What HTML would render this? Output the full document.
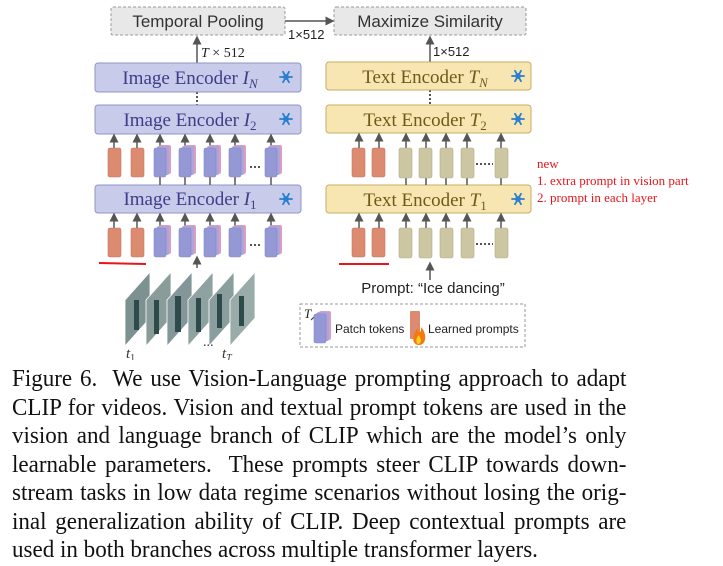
<!DOCTYPE html>
<html><head><meta charset="utf-8"><style>
body{margin:0;background:#fff;width:723px;height:566px;overflow:hidden;position:relative}
svg{position:absolute;left:0;top:0}
.cap{position:absolute;left:12px;top:365px;width:640px;transform:scaleX(0.96);transform-origin:0 0;font-family:"Liberation Serif",serif;font-size:24px;color:#111}
.cap div{height:28.5px;line-height:28.5px;text-align:justify;text-align-last:justify;white-space:nowrap;overflow:visible}
.red{position:absolute;left:537px;font-family:"Liberation Serif",serif;font-size:13px;color:#e8151b;white-space:nowrap}
</style></head><body>
<svg width="723" height="360" viewBox="0 0 723 360" font-family="Liberation Serif, serif">
<defs>
<marker id="ah" markerWidth="6" markerHeight="6" refX="3" refY="3" orient="auto"><path d="M0,0 L6,3 L0,6 z" fill="#555"/></marker>
<g id="bt"><rect x="5" y="-3" width="12" height="29" rx="2" fill="#d7a0c0"/><rect x="3" y="-2" width="12" height="29" rx="2" fill="#b0a3dc"/><rect x="0" y="0" width="12" height="29" rx="2" fill="#9499d6" stroke="#8287c4" stroke-width="0.6"/></g>
<g id="ot"><rect x="0" y="0" width="13" height="29" rx="2" fill="#dc8a70" stroke="#c07660" stroke-width="0.6"/></g>
<g id="wt"><rect x="0" y="0" width="13" height="30" rx="2" fill="#cdc6a3" stroke="#b3ab88" stroke-width="0.6"/></g>
<g id="sf" stroke="#2a7fd0" stroke-width="1.8" stroke-linecap="round"><line x1="-6" y1="0" x2="6" y2="0"/><line x1="-3" y1="-5.2" x2="3" y2="5.2"/><line x1="3" y1="-5.2" x2="-3" y2="5.2"/><circle r="2" fill="#2a7fd0"/></g>
</defs>
<rect x="111" y="7" width="174" height="28" rx="2" fill="#e8e8e8" stroke="#999" stroke-dasharray="3,2"/>
<text x="198" y="27" font-size="17" text-anchor="middle" fill="#333" font-family="Liberation Sans, sans-serif">Temporal Pooling</text>
<rect x="334" y="7" width="192" height="28" rx="2" fill="#e8e8e8" stroke="#999" stroke-dasharray="3,2"/>
<text x="430" y="27" font-size="17" text-anchor="middle" fill="#333" font-family="Liberation Sans, sans-serif">Maximize Similarity</text>
<line x1="285" y1="21" x2="330" y2="21" stroke="#555" stroke-width="1.5" marker-end="url(#ah)"/>
<text x="288" y="39" font-size="13" fill="#222" font-family="Liberation Sans, sans-serif">1×512</text>
<line x1="197" y1="63" x2="197" y2="40" stroke="#555" stroke-width="1.5" marker-end="url(#ah)"/>
<text x="201" y="57" font-size="14" fill="#222"><tspan font-style="italic">T</tspan> × 512</text>
<line x1="430" y1="62" x2="430" y2="40" stroke="#555" stroke-width="1.5" marker-end="url(#ah)"/>
<text x="433" y="56" font-size="13" fill="#222" font-family="Liberation Sans, sans-serif">1×512</text>
<line x1="197" y1="92" x2="197" y2="105" stroke="#555" stroke-width="2" stroke-dasharray="2,2"/>
<line x1="430" y1="90" x2="430" y2="105" stroke="#555" stroke-width="2" stroke-dasharray="2,2"/>
<g fill="#c9cbea" stroke="#9094c8" stroke-width="1">
<rect x="95" y="63" width="206" height="29" rx="3"/><rect x="95" y="105" width="206" height="29" rx="3"/><rect x="95" y="185" width="206" height="28" rx="3"/></g>
<g font-size="19" fill="#3d3d88" text-anchor="middle">
<text x="190" y="84">Image Encoder <tspan font-style="italic">I</tspan><tspan font-style="italic" font-size="13" dy="4">N</tspan></text>
<text x="190" y="126">Image Encoder <tspan font-style="italic">I</tspan><tspan font-size="13" dy="4">2</tspan></text>
<text x="190" y="205">Image Encoder <tspan font-style="italic">I</tspan><tspan font-size="13" dy="4">1</tspan></text></g>
<use href="#sf" x="286" y="77"/><use href="#sf" x="286" y="119"/><use href="#sf" x="286" y="199"/>
<g fill="#f7e6b2" stroke="#c8ad62" stroke-width="1">
<rect x="326" y="62" width="205" height="28" rx="3"/><rect x="326" y="105" width="205" height="28" rx="3"/><rect x="326" y="185" width="205" height="28" rx="3"/></g>
<g font-size="19" fill="#6e5a18" text-anchor="middle">
<text x="425" y="83">Text Encoder <tspan font-style="italic">T</tspan><tspan font-style="italic" font-size="13" dy="4">N</tspan></text>
<text x="425" y="126">Text Encoder <tspan font-style="italic">T</tspan><tspan font-size="13" dy="4">2</tspan></text>
<text x="425" y="206">Text Encoder <tspan font-style="italic">T</tspan><tspan font-size="13" dy="4">1</tspan></text></g>
<use href="#sf" x="518" y="76"/><use href="#sf" x="518" y="119"/><use href="#sf" x="518" y="199"/>
<g stroke="#555" stroke-width="1.5" marker-end="url(#ah)">
<line x1="114" y1="148" x2="114" y2="138"/><line x1="137" y1="148" x2="137" y2="138"/>
<line x1="160" y1="148" x2="160" y2="138"/><line x1="185" y1="148" x2="185" y2="138"/><line x1="210" y1="148" x2="210" y2="138"/><line x1="235" y1="148" x2="235" y2="138"/><line x1="271" y1="148" x2="271" y2="138"/>
<line x1="114" y1="228" x2="114" y2="217"/><line x1="137" y1="228" x2="137" y2="217"/>
<line x1="160" y1="228" x2="160" y2="217"/><line x1="185" y1="228" x2="185" y2="217"/><line x1="210" y1="228" x2="210" y2="217"/><line x1="235" y1="228" x2="235" y2="217"/><line x1="271" y1="228" x2="271" y2="217"/>
<line x1="359" y1="148" x2="359" y2="137"/><line x1="379" y1="148" x2="379" y2="137"/>
<line x1="406" y1="148" x2="406" y2="137"/><line x1="426" y1="148" x2="426" y2="137"/><line x1="446" y1="148" x2="446" y2="137"/><line x1="467" y1="148" x2="467" y2="137"/><line x1="501" y1="148" x2="501" y2="137"/>
<line x1="359" y1="228" x2="359" y2="217"/><line x1="379" y1="228" x2="379" y2="217"/>
<line x1="406" y1="228" x2="406" y2="217"/><line x1="426" y1="228" x2="426" y2="217"/><line x1="446" y1="228" x2="446" y2="217"/><line x1="467" y1="228" x2="467" y2="217"/><line x1="501" y1="228" x2="501" y2="217"/>
<line x1="197" y1="268" x2="197" y2="260"/><line x1="430" y1="280" x2="430" y2="266"/>
</g>
<g stroke="#555" stroke-width="1.5">
<line x1="160" y1="177" x2="160" y2="185"/><line x1="185" y1="177" x2="185" y2="185"/><line x1="210" y1="177" x2="210" y2="185"/><line x1="235" y1="177" x2="235" y2="185"/><line x1="271" y1="177" x2="271" y2="185"/>
<line x1="406" y1="178" x2="406" y2="185"/><line x1="426" y1="178" x2="426" y2="185"/><line x1="446" y1="178" x2="446" y2="185"/><line x1="467" y1="178" x2="467" y2="185"/><line x1="501" y1="178" x2="501" y2="185"/>
</g>
<use href="#ot" x="108" y="148"/><use href="#ot" x="131" y="148"/>
<use href="#bt" x="154" y="148"/><use href="#bt" x="179" y="148"/><use href="#bt" x="204" y="148"/><use href="#bt" x="229" y="148"/><use href="#bt" x="265" y="148"/>
<use href="#ot" x="108" y="228"/><use href="#ot" x="131" y="228"/>
<use href="#bt" x="154" y="228"/><use href="#bt" x="179" y="228"/><use href="#bt" x="204" y="228"/><use href="#bt" x="229" y="228"/><use href="#bt" x="265" y="228"/>
<use href="#ot" x="352" y="148"/><use href="#ot" x="372" y="148"/>
<use href="#wt" x="399" y="148"/><use href="#wt" x="419" y="148"/><use href="#wt" x="440" y="148"/><use href="#wt" x="461" y="148"/><use href="#wt" x="495" y="148"/>
<use href="#ot" x="352" y="228"/><use href="#ot" x="372" y="228"/>
<use href="#wt" x="399" y="228"/><use href="#wt" x="419" y="228"/><use href="#wt" x="440" y="228"/><use href="#wt" x="461" y="228"/><use href="#wt" x="495" y="228"/>
<g stroke="#555" stroke-width="2" stroke-dasharray="2,2">
<line x1="250" y1="167" x2="262" y2="167"/><line x1="250" y1="245" x2="262" y2="245"/>
<line x1="476" y1="164" x2="493" y2="164"/><line x1="476" y1="244" x2="493" y2="244"/></g>
<line x1="99" y1="263" x2="146" y2="264" stroke="#e8151b" stroke-width="2"/>
<line x1="339" y1="264" x2="389" y2="264" stroke="#e8151b" stroke-width="2"/>
<g stroke="#fff" stroke-width="0.8">
<polygon points="125,300 150,272 150,318 125,346" fill="#7d9191"/>
<polygon points="146,300 171,272 171,318 146,346" fill="#899c9a"/>
<polygon points="167,300 192,272 192,318 167,346" fill="#83969a"/>
<polygon points="188,300 213,272 213,318 188,346" fill="#8fa2a2"/>
<polygon points="209,300 234,272 234,318 209,346" fill="#8a9e9e"/>
<polygon points="230,300 255,272 255,318 230,346" fill="#9aacaa"/>
</g>
<g fill="#2e4a4a"><rect x="134" y="300" width="5" height="30"/><rect x="154" y="300" width="5" height="34"/><rect x="175" y="296" width="6" height="36"/><rect x="196" y="298" width="5" height="34"/><rect x="217" y="294" width="5" height="34"/><rect x="239" y="296" width="5" height="30"/></g>
<text x="126" y="358" font-size="15" font-style="italic" fill="#333">t<tspan font-size="10" dy="3" font-style="normal">1</tspan></text>
<text x="203" y="346" font-size="14" fill="#333">...</text>
<text x="222" y="358" font-size="15" font-style="italic" fill="#333">t<tspan font-size="10" dy="3">T</tspan></text>
<text x="433" y="293" font-size="15" text-anchor="middle" fill="#222" font-family="Liberation Sans, sans-serif">Prompt: “Ice dancing”</text>
<rect x="300" y="304" width="225" height="43" fill="none" stroke="#999" stroke-dasharray="3,2"/>
<text x="304" y="318" font-size="13" font-style="italic" fill="#222">T</text>
<line x1="311" y1="320" x2="318" y2="313" stroke="#444" stroke-width="1.2"/>
<use href="#bt" x="314" y="314"/>
<text x="335" y="333" font-size="12" fill="#222" font-family="Liberation Sans, sans-serif">Patch tokens</text>
<rect x="410" y="311" width="10" height="28" rx="1" fill="#dc8a70"/>
<path d="M419,345 C412,345 411,336 418,328 C418,334 422,333 421,327 C427,333 427,345 419,345z" fill="#f47a10"/>
<path d="M419,344 C416,344 415,339 419,335 C420,339 423,340 419,344z" fill="#fcd020"/>
<text x="428" y="333" font-size="12" fill="#222" font-family="Liberation Sans, sans-serif">Learned prompts</text>
</svg>
<div class="red" style="top:156px">new</div>
<div class="red" style="top:173px">1. extra prompt in vision part</div>
<div class="red" style="top:190px">2. prompt in each layer</div>
<div class="cap">
<div>Figure 6.&nbsp; We use Vision-Language prompting approach to adapt</div>
<div>CLIP for videos. Vision and textual prompt tokens are used in the</div>
<div>vision and language branch of CLIP which are the model’s only</div>
<div>learnable parameters.&nbsp; These prompts steer CLIP towards down-</div>
<div>stream tasks in low data regime scenarios without losing the orig-</div>
<div>inal generalization ability of CLIP. Deep contextual prompts are</div>
<div style="text-align-last:left">used in both branches across multiple transformer layers.</div>
</div>
</body></html>
